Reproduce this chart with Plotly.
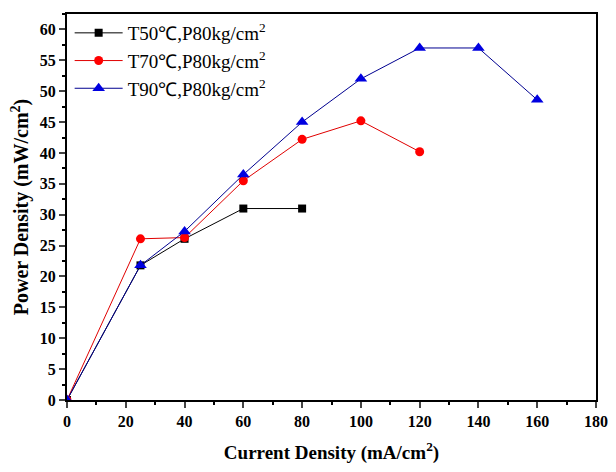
import plotly.graph_objects as go

x50 = [0, 25, 40, 60, 80]
y50 = [0, 21.8, 26.1, 31.0, 31.0]
x70 = [0, 25, 40, 60, 80, 100, 120]
y70 = [0, 26.1, 26.3, 35.5, 42.2, 45.2, 40.2]
x90 = [0, 25, 40, 60, 80, 100, 120, 140, 160]
y90 = [0, 21.8, 27.3, 36.5, 45.0, 52.0, 57.0, 57.0, 48.6]
names = ["T50℃,P80kg/cm<sup>2</sup>", "T70℃,P80kg/cm<sup>2</sup>", "T90℃,P80kg/cm<sup>2</sup>"]
x_ticks = [0, 20, 40, 60, 80, 100, 120, 140, 160, 180]
y_ticks = [0, 5, 10, 15, 20, 25, 30, 35, 40, 45, 50, 55, 60]

FAM = "Liberation Serif"

fig = go.Figure()
fig.add_trace(go.Scatter(x=x50, y=y50, name=names[0], mode="lines+markers",
                         line=dict(color="black", width=1),
                         marker=dict(symbol="square", size=8, color="black")))
fig.add_trace(go.Scatter(x=x70, y=y70, name=names[1], mode="lines+markers",
                         line=dict(color="#e00000", width=1),
                         marker=dict(symbol="circle", size=9, color="red")))
fig.add_trace(go.Scatter(x=x90, y=y90, name=names[2], mode="lines+markers",
                         line=dict(color="#000090", width=1),
                         marker=dict(symbol="triangle-up", size=11, color="#0000e0")))

# page body has an 8px default margin; figure sized/margined to compensate
fig.update_layout(
    width=600, height=456,
    margin=dict(l=59, r=12, t=6, b=64, autoexpand=False),
    paper_bgcolor="white", plot_bgcolor="white",
    font=dict(family=FAM, size=14, color="black"),
    legend=dict(x=0.005, y=1.0, xanchor="left", yanchor="top",
                bgcolor="rgba(0,0,0,0)", font=dict(size=19, family=FAM),
                tracegroupgap=0, itemwidth=48),
    showlegend=True,
)
fig.update_xaxes(range=[0, 180], tickvals=x_ticks, ticktext=[f"<b>{v}</b>" for v in x_ticks],
                 ticks="outside", ticklen=6, tickwidth=2,
                 showline=True, linewidth=2, linecolor="black", mirror=True, showgrid=False,
                 zeroline=False, automargin=False,
                 tickfont=dict(size=16, family=FAM),
                 minor=dict(ticks="outside", ticklen=3, tickwidth=1.5, tick0=0, dtick=10, tickcolor="black"),
                 title=dict(text="<b>Current Density (mA/cm<sup>2</sup>)</b>", font=dict(size=19, family=FAM), standoff=16))
fig.update_yaxes(range=[0, 62.5], tickvals=y_ticks, ticktext=[f"<b>{v}</b>" for v in y_ticks],
                 ticks="outside", ticklen=6, tickwidth=2,
                 showline=True, linewidth=2, linecolor="black", mirror=True, showgrid=False,
                 zeroline=False, automargin=False,
                 tickfont=dict(size=16, family=FAM),
                 minor=dict(ticks="outside", ticklen=3, tickwidth=1.5, tick0=0, dtick=2.5, tickcolor="black"),
                 title=dict(text="<b>Power Density (mW/cm<sup>2</sup>)</b>", font=dict(size=20, family=FAM), standoff=9))

fig.write_html("out.html")
